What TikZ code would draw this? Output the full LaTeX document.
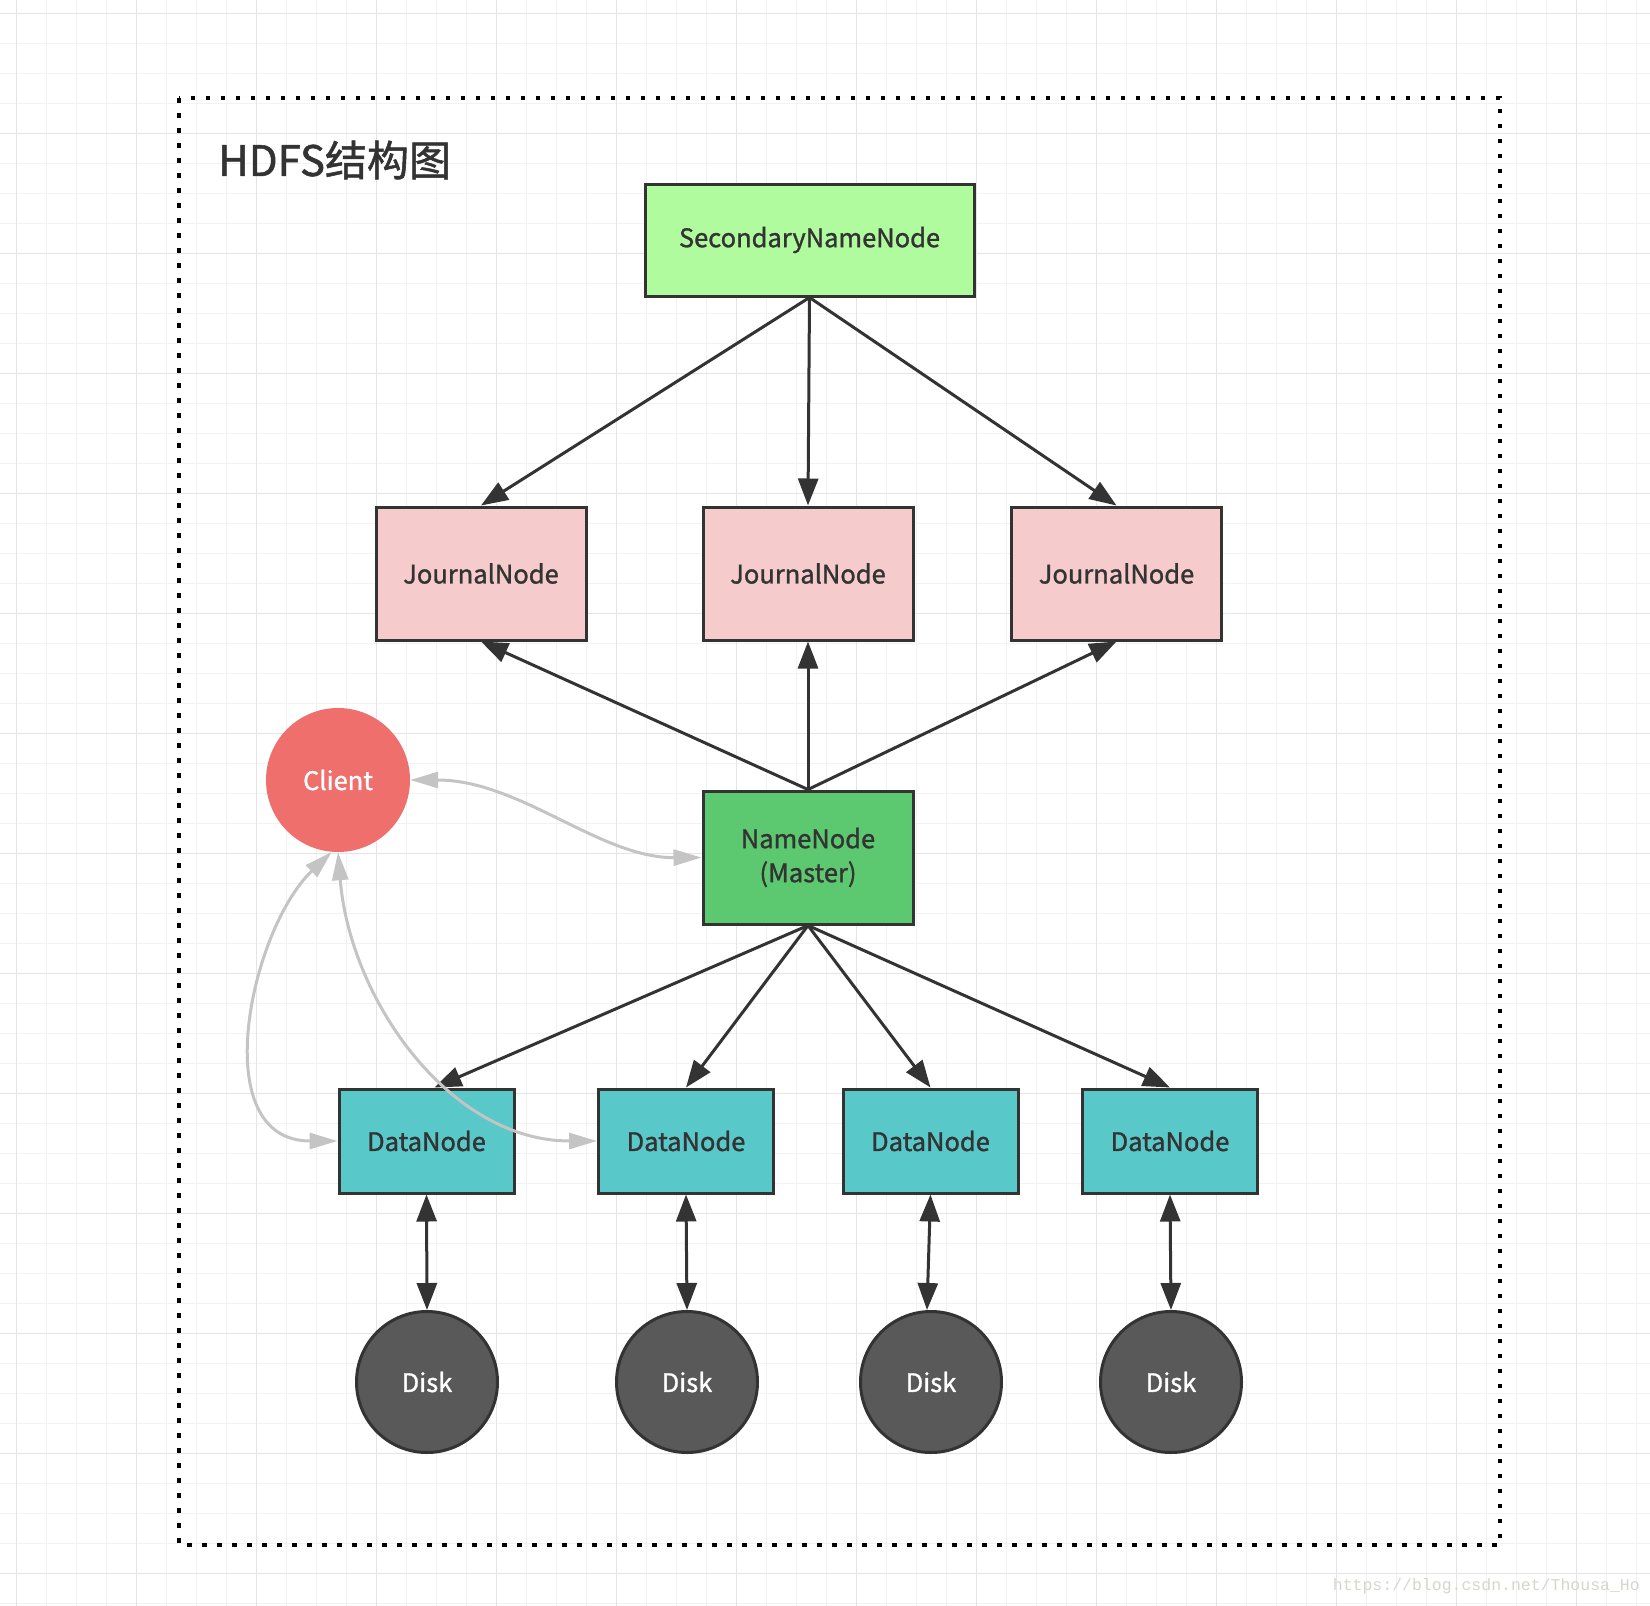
\documentclass[tikz,border=0pt]{standalone}
\usepackage{fontspec}
\setmainfont{Noto Sans CJK SC}
\newfontfamily\lblfont[FakeBold=1.2]{Noto Sans CJK SC}
\newfontfamily\wmfont{Liberation Mono}
\usetikzlibrary{arrows.meta}
\definecolor{ink}{HTML}{333333}
\definecolor{snnfill}{HTML}{B1FB9F}
\definecolor{jnfill}{HTML}{F6CBCB}
\definecolor{nnfill}{HTML}{5CC870}
\definecolor{dnfill}{HTML}{58C8C9}
\definecolor{clientfill}{HTML}{EE6F6B}
\definecolor{diskfill}{HTML}{595959}
\definecolor{gridminor}{HTML}{F2F2F2}
\definecolor{gridmajor}{HTML}{E4E4E4}
\definecolor{softgrey}{HTML}{C4C4C4}
\definecolor{wmgrey}{HTML}{D6D6CE}
\begin{document}
\begin{tikzpicture}[x=1pt,y=-1pt,
  box/.style={draw=ink,line width=3pt,inner sep=0pt,text=ink,font=\lblfont\fontsize{25.5}{34}\selectfont,align=center},
  snnbox/.style={box,fill=snnfill,minimum width=329pt,minimum height=112pt},
  jnbox/.style={box,fill=jnfill,minimum width=210pt,minimum height=133pt},
  nnbox/.style={box,fill=nnfill,minimum width=210pt,minimum height=133pt},
  dnbox/.style={box,fill=dnfill,minimum width=175pt,minimum height=104pt},
  clientnode/.style={circle,fill=clientfill,minimum size=144pt,inner sep=0pt,text=white,font=\lblfont\fontsize{25.5}{28}\selectfont},
  disknode/.style={circle,draw=ink,line width=3pt,fill=diskfill,minimum size=141pt,inner sep=0pt,text=white,font=\lblfont\fontsize{25.5}{28}\selectfont},
  darrow/.style={draw=ink,line width=3pt,-{Triangle[length=27pt,width=20pt]}},
  dbiarrow/.style={draw=ink,line width=3pt,{Triangle[length=27pt,width=20pt]}-{Triangle[length=27pt,width=20pt]}},
  garrow/.style={draw=softgrey,line width=3pt,{Triangle[length=28pt,width=16pt]}-{Triangle[length=28pt,width=16pt]}}
]
\useasboundingbox (0,0) rectangle (1650,1606);
\fill[white] (0,0) rectangle (1650,1606);
% grid
\foreach \x in {16.7,46.7,...,1650} \draw[gridminor,line width=1.5pt] (\x,0) -- (\x,1606);
\foreach \y in {13.3,43.3,...,1606} \draw[gridminor,line width=1.5pt] (0,\y) -- (1650,\y);
\foreach \x in {16.7,136.7,...,1650} \draw[gridmajor,line width=1.5pt] (\x,0) -- (\x,1606);
\foreach \y in {13.3,133.3,...,1606} \draw[gridmajor,line width=1.5pt] (0,\y) -- (1650,\y);
% dotted frame
\draw[black,line width=4.5pt,dash pattern=on 4.5pt off 10.5pt] (179,98) rectangle (1500,1545);
% title
\node[anchor=west,text=ink,font=\lblfont\fontsize{42}{42}\selectfont,inner sep=0pt] (title) at (218,160) {HDFS结构图};
% nodes
\node[snnbox] (snn) at (809.5,240) {SecondaryNameNode};
\node[jnbox] (jn1) at (481,573.5) {JournalNode};
\node[jnbox] (jn2) at (808,573.5) {JournalNode};
\node[jnbox] (jn3) at (1116.5,573.5) {JournalNode};
\node[nnbox] (nn) at (808,857.5) {NameNode\\(Master)};
\node[clientnode] (client) at (338,780) {Client};
\node[dnbox] (dn1) at (426.5,1141) {DataNode};
\node[dnbox] (dn2) at (686,1141) {DataNode};
\node[dnbox] (dn3) at (930.5,1141) {DataNode};
\node[dnbox] (dn4) at (1170,1141) {DataNode};
\node[disknode] (disk1) at (427,1382) {Disk};
\node[disknode] (disk2) at (687,1382) {Disk};
\node[disknode] (disk3) at (931,1382) {Disk};
\node[disknode] (disk4) at (1171,1382) {Disk};
% dark arrows
\draw[darrow] (snn.south) -- (jn1.north);
\draw[darrow] (snn.south) -- (jn2.north);
\draw[darrow] (snn.south) -- (jn3.north);
\draw[darrow] (nn.north) -- (jn1.south);
\draw[darrow] (nn.north) -- (jn2.south);
\draw[darrow] (nn.north) -- (jn3.south);
\draw[darrow] (nn.south) -- ([xshift=8pt]dn1.north);
\draw[darrow] (nn.south) -- (dn2.north);
\draw[darrow] (nn.south) -- (dn3.north);
\draw[darrow] (nn.south) -- (dn4.north);
\draw[dbiarrow] (dn1.south) -- (disk1.north);
\draw[dbiarrow] (dn2.south) -- (disk2.north);
\draw[dbiarrow] (dn3.south) -- ([xshift=-4pt]disk3.north);
\draw[dbiarrow] (dn4.south) -- (disk4.north);
% grey arrows
\draw[garrow] (client.east) .. controls (520,780) and (600,858) .. (nn.west);
\draw[garrow] (client.265) .. controls (250,930) and (205,1141) .. (dn1.west);
\draw[garrow] (client.270) .. controls (350,1000) and (450,1141) .. (dn2.west);
% watermark
\node[anchor=east,text=wmgrey,font=\wmfont\fontsize{16.5}{16.5}\selectfont,inner sep=0pt] (wm) at (1640,1586) {https://blog.csdn.net/Thousa\_Ho};
\end{tikzpicture}
\end{document}
